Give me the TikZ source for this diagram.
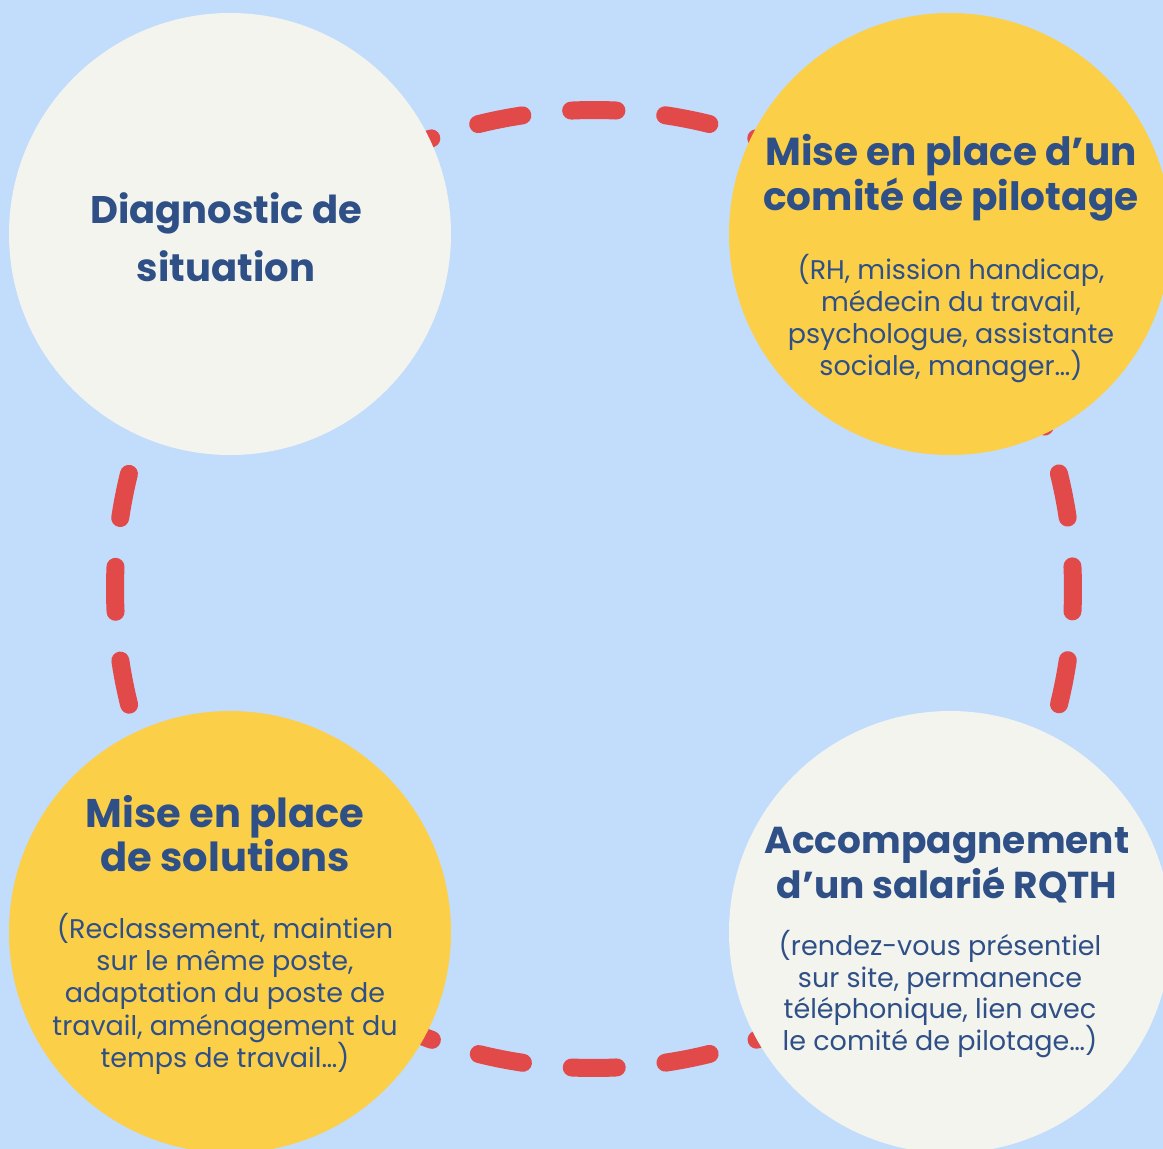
\documentclass[tikz,border=0pt]{standalone}
\usepackage{fontspec}
\setmainfont{Poppins}
\definecolor{bgblue}{RGB}{194,220,252}
\definecolor{offwhite}{RGB}{244,244,239}
\definecolor{sun}{RGB}{252,207,72}
\definecolor{ringred}{RGB}{226,74,74}
\definecolor{ink}{RGB}{47,80,134}
\tikzset{
  bubble/.style={circle, minimum size=442pt, inner sep=0pt, draw=none},
  hd/.style={anchor=base, text=ink, inner sep=0pt, font=\fontsize{39}{39}\selectfont\bfseries},
  bd/.style={anchor=base, text=ink, inner sep=0pt, font=\fontsize{27}{27}\selectfont},
  ring/.style={draw=ringred, line width=18pt, line cap=round, dash pattern=on 45pt off 49.05pt}
}
\begin{document}
\begin{tikzpicture}[x=1pt,y=-1pt]
\useasboundingbox (0,0) rectangle (1163,1149);
\clip (0,0) rectangle (1163,1149);
\fill[bgblue] (0,0) rectangle (1163,1149);
% dashed ring
\draw[ring] (594,589) ++(-92.7:479) arc[start angle=-92.7, end angle=267.3, radius=479];
% circles
\node[bubble, fill=offwhite] (diag) at (230,234) {};
\node[bubble, fill=sun] (comite) at (950,234) {};
\node[bubble, fill=sun] (solut) at (230,932) {};
\node[bubble, fill=offwhite] (accomp) at (950,932) {};
% texts top-left
\node[hd, font=\fontsize{38.5}{38.5}\selectfont\bfseries] (d1) at (226,223) {Diagnostic de};
\node[hd, font=\fontsize{38.5}{38.5}\selectfont\bfseries] (d2) at (226,281) {situation};
% top-right
\node[hd] (c1) at (951,165) {Mise en place d’un};
\node[hd] (c2) at (951,210) {comité de pilotage};
\node[bd] (c3) at (951,279) {(RH, mission handicap,};
\node[bd] (c4) at (951,311) {médecin du travail,};
\node[bd] (c5) at (951,343) {psychologue, assistante};
\node[bd] (c6) at (951,375) {sociale, manager…)};
% bottom-left
\node[hd, font=\fontsize{40}{40}\selectfont\bfseries] (s1) at (225,827) {Mise en place};
\node[hd, font=\fontsize{40}{40}\selectfont\bfseries] (s2) at (225,871) {de solutions};
\node[bd] (s3) at (225,938) {(Reclassement, maintien};
\node[bd] (s4) at (225,970) {sur le même poste,};
\node[bd] (s5) at (225,1002) {adaptation du poste de};
\node[bd] (s6) at (225,1035) {travail, aménagement du};
\node[bd] (s7) at (225,1067) {temps de travail…)};
% bottom-right
\node[hd, font=\fontsize{37.5}{37.5}\selectfont\bfseries] (a1) at (947,853) {Accompagnement};
\node[hd, font=\fontsize{37.5}{37.5}\selectfont\bfseries] (a2) at (947,898) {d’un salarié RQTH};
\node[bd] (a3) at (940,955) {(rendez-vous présentiel};
\node[bd] (a4) at (940,987) {sur site, permanence};
\node[bd] (a5) at (940,1018) {téléphonique, lien avec};
\node[bd] (a6) at (940,1050) {le comité de pilotage…)};
\end{tikzpicture}
\end{document}
